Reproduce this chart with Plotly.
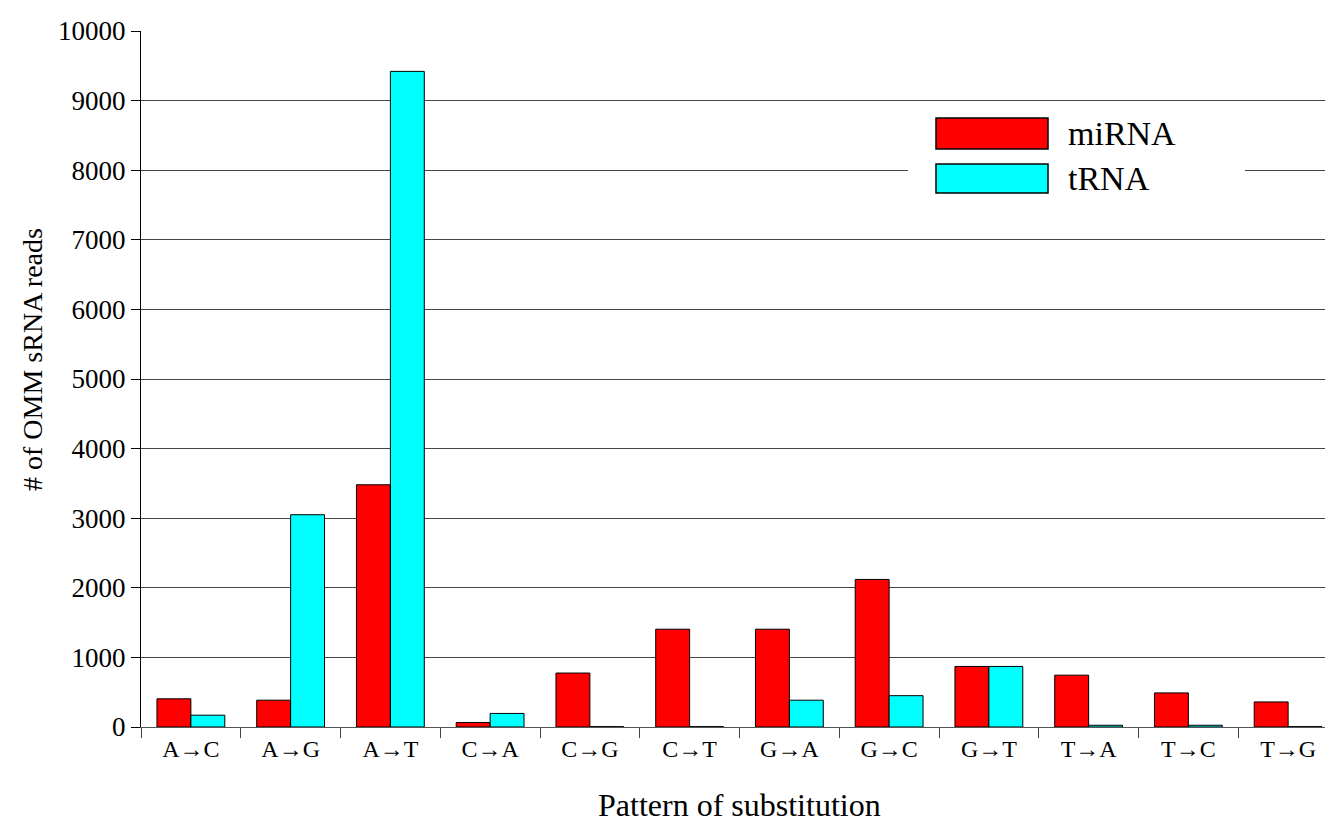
import plotly.graph_objects as go

categories = ["A→C", "A→G", "A→T", "C→A", "C→G", "C→T", "G→A", "G→C", "G→T", "T→A", "T→C", "T→G"]
mirna = [405, 385, 3480, 65, 775, 1405, 1405, 2120, 870, 745, 490, 360]
trna = [170, 3050, 9420, 195, 5, 5, 385, 450, 870, 25, 25, 5]
y_ticks = list(range(0, 10001, 1000))
y_tick_text = [str(v) for v in y_ticks]
series_names = ["miRNA", "tRNA"]
series_colors = ["#FF0000", "#00FFFF"]

FONT = "Liberation Serif, Times New Roman, serif"

fig = go.Figure()
for name, vals, col in zip(series_names, [mirna, trna], series_colors):
    fig.add_trace(go.Bar(
        x=categories, y=vals, name=name,
        marker=dict(color=col, line=dict(color="#000000", width=1)),
        showlegend=False,
    ))

W, H = 1333, 829
ml, mr, mt, mb = 133, 3, 23, 110
pw, ph = W - ml - mr, H - mt - mb

def px(x):
    return (x - ml) / pw

def py(y):
    return (H - mb - y) / ph

shapes = []
annotations = []
# legend background
shapes.append(dict(type="rect", xref="paper", yref="paper",
                   x0=px(900), x1=px(1237), y0=py(195), y1=py(100),
                   fillcolor="white", line=dict(width=0), layer="above"))
legend_rows = [(110, 141), (156, 185)]
for (y0, y1), name, col in zip(legend_rows, series_names, series_colors):
    shapes.append(dict(type="rect", xref="paper", yref="paper",
                       x0=px(928), x1=px(1040), y0=py(y1), y1=py(y0),
                       fillcolor=col, line=dict(color="#000000", width=1.5), layer="above"))
    annotations.append(dict(xref="paper", yref="paper", x=px(1058), y=py((y0 + y1) / 2),
                            text=name, showarrow=False, xanchor="left", yanchor="middle",
                            font=dict(family=FONT, size=34, color="black")))

annotations.append(dict(xref="paper", yref="paper", x=px(24), y=py(352),
                        text="# of OMM sRNA reads", textangle=-90, showarrow=False,
                        xanchor="center", yanchor="middle",
                        font=dict(family=FONT, size=28, color="black")))
annotations.append(dict(xref="paper", yref="paper", x=0.5, y=py(797),
                        text="Pattern of substitution", showarrow=False,
                        xanchor="center", yanchor="middle",
                        font=dict(family=FONT, size=32, color="black")))

fig.update_layout(
    width=W, height=H,
    margin=dict(l=ml, r=mr, t=mt, b=mb),
    paper_bgcolor="white", plot_bgcolor="white",
    barmode="group", bargap=0.32, bargroupgap=0,
    font=dict(family=FONT, color="black"),
    shapes=shapes, annotations=annotations,
    xaxis=dict(
        type="category", tickson="boundaries", ticks="outside", ticklen=10,
        tickcolor="#444", showline=True, linecolor="#555", linewidth=1,
        tickfont=dict(family=FONT, size=24, color="black"),
        showgrid=False, zeroline=False, fixedrange=True,
    ),
    yaxis=dict(
        range=[0, 10000], tickvals=y_ticks, ticktext=y_tick_text,
        ticks="outside", ticklen=9,
        tickcolor="#000", showline=True, linecolor="#000", linewidth=1,
        showgrid=True, gridcolor="#444", gridwidth=1, zeroline=False,
        tickfont=dict(family=FONT, size=27, color="black"),
    ),
)

fig.write_html("out.html")
